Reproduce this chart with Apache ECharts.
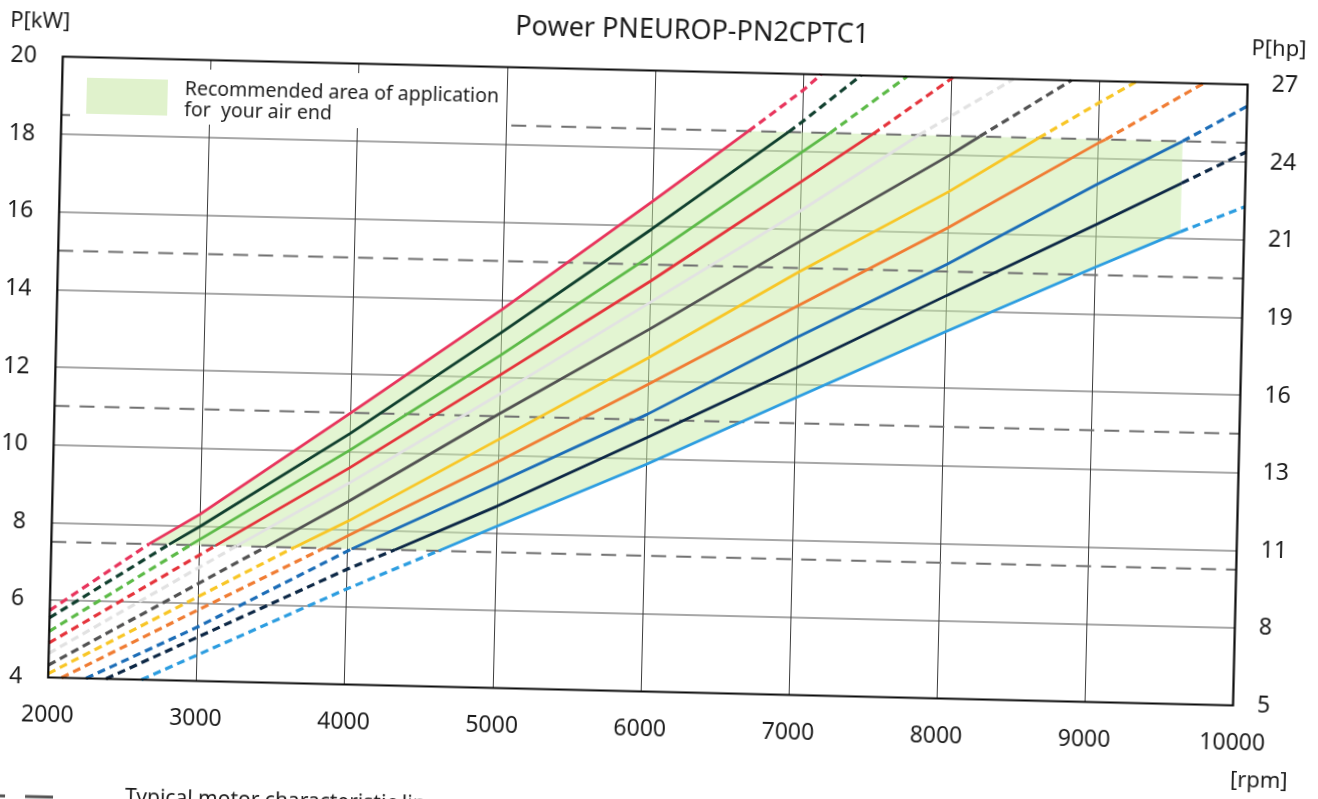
<!DOCTYPE html>
<html><head><meta charset="utf-8">
<script src="https://cdn.jsdelivr.net/npm/echarts@6/dist/echarts.min.js"></script>
<style>
html,body{margin:0;padding:0;background:#fff;overflow:hidden;width:1318px;height:799px}
#chart{position:absolute;left:0;top:0;width:1318px;height:840px;transform:rotate(1.35deg);transform-origin:647px 381px}
</style></head><body><div id="chart"></div>
<script>
// ---- data ----
const titleText = 'Power PNEUROP-PN2CPTC1';
const hpTickLabels = ['5','8','11','13','16','19','21','24','27'];
const motorKw = [7.5, 11, 15, 18.5];           // typical motor characteristic lines
const recMaxRpm = 9570;                         // right edge of recommended area
const recTopKw = 18.5;

const curveColors = ['#e8345c','#103f2e','#5cba47','#e5333b','#e2e2e2','#525252','#f8c626','#f07c33','#1c6db7','#0c2745','#2c9de0'];

const c1  = [[2000,5.73],[2660,7.5],[3000,8.3],[4000,11.0],[5000,13.74],[6000,16.62],[6640,18.5],[7000,19.58],[7120,20]];
const c2  = [[2000,5.54],[2795,7.5],[3000,7.98],[4000,10.47],[5000,13.15],[6000,15.91],[6910,18.5],[7000,18.77],[7390,20]];
const c3  = [[2000,5.19],[2940,7.5],[4000,10.04],[5000,12.57],[6000,15.23],[7000,17.98],[7190,18.5],[7700,20]];
const c4  = [[2000,4.89],[3110,7.5],[4000,9.58],[5000,12.06],[6000,14.57],[7000,17.22],[7480,18.5],[8010,20]];
const c5  = [[2000,4.62],[3250,7.5],[4000,9.19],[5000,11.57],[6000,14.02],[7000,16.47],[7790,18.5],[8420,20]];
const c6  = [[2000,4.32],[3450,7.5],[4000,8.72],[5000,11.06],[6000,13.33],[7000,15.68],[8000,18.0],[8200,18.5],[8810,20]];
const c7  = [[2000,4.10],[3640,7.5],[4000,8.21],[5000,10.4],[6000,12.6],[7000,14.9],[8000,17.06],[8600,18.5],[9000,19.44],[9245,20]];
const c8  = [[2090,4.0],[3000,5.83],[3840,7.5],[4000,7.83],[5000,9.83],[6000,11.91],[7000,14.03],[8000,16.13],[9000,18.4],[9050,18.5],[9700,20]];
const c9  = [[2255,4.0],[3000,5.39],[4030,7.5],[5000,9.28],[6000,11.14],[7000,13.22],[8000,15.19],[9000,17.34],[9570,18.5],[10000,19.44]];
const c10 = [[2390,4.0],[4000,6.97],[4320,7.5],[5000,8.68],[6000,10.54],[7000,12.43],[8000,14.38],[9000,16.3],[9570,17.42],[10000,18.26]];
const c11 = [[2630,4.0],[4000,6.46],[4615,7.5],[5000,8.16],[6000,9.85],[7000,11.66],[8000,13.45],[9000,15.2],[9570,16.17],[10000,16.85]];

// rpm range in which each curve is drawn solid
const solidRanges = [[2660,6640],[2795,6910],[2940,7190],[3110,7480],[3250,7790],[3450,8200],[3640,8600],[3840,9050],[4030,9570],[4320,9570],[4615,9570]];

// ---- build ----
const curves = [c1,c2,c3,c4,c5,c6,c7,c8,c9,c10,c11];
const FONT = '"Noto Sans", "Open Sans", sans-serif';
const series = [];

const pinkSolid = c1.filter(p => p[0] >= solidRanges[0][0] && p[0] <= solidRanges[0][1]);
const lblueSolid = c11.filter(p => p[0] >= solidRanges[10][0] && p[0] <= solidRanges[10][1]);
const areaPts = pinkSolid.concat([[recMaxRpm, recTopKw]], lblueSolid.slice().reverse());

series.push({
  type: 'custom', silent: true, z: 1, animation: false,
  data: areaPts,
  renderItem: function (params, api) {
    if (params.dataIndex !== 0) return { type: 'group', children: [] };
    return { type: 'polygon', shape: { points: areaPts.map(p => api.coord(p)) },
             style: { fill: 'rgba(200,235,165,0.5)' } };
  }
});

motorKw.forEach(v => {
  series.push({ type: 'line', data: [[2000, v], [10000, v]], symbol: 'none', silent: true, z: 3,
    animation: false, lineStyle: { color: '#6f6f6f', width: 2, type: [15, 10] } });
});

curves.forEach((pts, i) => {
  const r = solidRanges[i];
  const low = pts.filter(p => p[0] <= r[0]);
  const mid = pts.filter(p => p[0] >= r[0] && p[0] <= r[1]);
  const high = pts.filter(p => p[0] >= r[1]);
  const col = curveColors[i];
  [[low, 'dash'], [mid, 'solid'], [high, 'dash']].forEach(([d, t]) => {
    if (d.length < 2) return;
    series.push({ type: 'line', data: d, symbol: 'none', silent: true, z: 5, animation: false,
      lineStyle: { color: col, width: t === 'solid' ? 2.8 : 3.2, type: t === 'solid' ? 'solid' : [8, 5], cap: 'butt' } });
  });
});

const chart = echarts.init(document.getElementById('chart'), null, { renderer: 'canvas' });
chart.setOption({
  animation: false,
  backgroundColor: '#fff',
  grid: { left: 53.5, top: 70.5, width: 1187, height: 621, show: true, borderColor: '#0a0a0a', borderWidth: 2.2, backgroundColor: 'transparent', z: 10 },
  xAxis: {
    type: 'value', min: 2000, max: 10000, interval: 1000,
    axisLine: { show: false }, axisTick: { show: false },
    splitLine: { show: true, showMinLine: false, showMaxLine: false, lineStyle: { color: '#3c3c3c', width: 1 } },
    axisLabel: { fontSize: 23, color: '#1c1c1c', margin: 26, fontFamily: FONT, formatter: v => String(v) }
  },
  yAxis: [{
    type: 'value', min: 4, max: 20, interval: 2, position: 'left',
    axisLine: { show: false }, axisTick: { show: false },
    splitLine: { show: true, showMinLine: false, showMaxLine: false, lineStyle: { color: '#8a8a8a', width: 1.5 } },
    axisLabel: { fontSize: 23, color: '#1c1c1c', margin: 26, fontFamily: FONT, formatter: v => String(v) }
  }, {
    type: 'value', min: 4, max: 20, interval: 2, position: 'right',
    axisLine: { show: false }, axisTick: { show: false }, splitLine: { show: false },
    axisLabel: { fontSize: 23, color: '#1c1c1c', margin: 24, fontFamily: FONT,
      formatter: v => hpTickLabels[Math.round((v - 4) / 2)] }
  }],
  graphic: [
    { type: 'rect', z: 50, shape: { x: 64, y: 80, width: 433, height: 55 }, style: { fill: '#fff' } },
    { type: 'rect', z: 51, shape: { x: 80, y: 91, width: 81, height: 36 }, style: { fill: '#e0f2cc' } },
    { type: 'text', z: 52, x: 178, y: 90, style: { text: 'Recommended area of application\nfor  your air end', font: '19.5px ' + FONT, fill: '#1c1c1c', lineHeight: 21, align: 'left', verticalAlign: 'top' } },
    { type: 'text', z: 52, x: 684, y: 30, style: { text: titleText, font: '27px ' + FONT, fill: '#1c1c1c', align: 'center', verticalAlign: 'middle' } },
    { type: 'text', z: 52, x: 32, y: 36, style: { text: 'P[kW]', font: '22px ' + FONT, fill: '#1c1c1c', align: 'center', verticalAlign: 'middle' } },
    { type: 'text', z: 52, x: 1271, y: 35, style: { text: 'P[hp]', font: '22px ' + FONT, fill: '#1c1c1c', align: 'center', verticalAlign: 'middle' } },
    { type: 'text', z: 52, x: 1268, y: 767, style: { text: '[rpm]', font: '22px ' + FONT, fill: '#1c1c1c', align: 'center', verticalAlign: 'middle' } },
    { type: 'line', z: 52, shape: { x1: -13, y1: 811, x2: 80, y2: 811 }, style: { stroke: '#555', lineWidth: 3, lineDash: [28, 20] } },
    { type: 'text', z: 52, x: 135, y: 810, style: { text: 'Typical motor characteristic line', font: '21px ' + FONT, fill: '#1c1c1c', align: 'left', verticalAlign: 'middle' } }
  ],
  series: series
});
</script></body></html>
